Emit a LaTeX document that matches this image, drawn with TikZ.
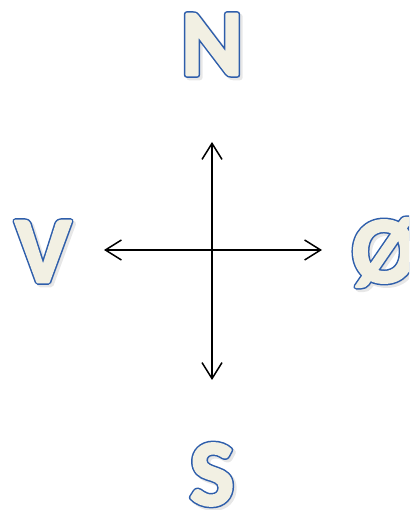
\documentclass[tikz,border=0pt]{standalone}
\usepackage{fontspec}
\setmainfont{Carlito}
\usetikzlibrary{arrows.meta}
\definecolor{cream}{HTML}{F2F0E3}
\definecolor{outl}{HTML}{2E5FAA}
\definecolor{shade}{HTML}{B0B0B0}
\newcommand{\outlinedletter}[1]{%
  \begingroup
  \rlap{\color{outl}\special{pdf:code 0.18 0.37 0.67 RG 5.6 w 1 j 1 Tr}#1\special{pdf:code 0 Tr}}%
  \color{cream}\special{pdf:code 0.949 0.941 0.89 RG 2.6 w 1 j 2 Tr}#1\special{pdf:code 0 Tr}%
  \endgroup}
\newcommand{\shadowtext}[1]{%
  \begingroup\color{shade}\special{pdf:code 0.69 0.69 0.69 RG 5.6 w 1 j 2 Tr}#1\special{pdf:code 0 Tr}\endgroup}
\tikzset{
  letter/.style={inner sep=0pt, anchor=base, font=\fontsize{94}{94}\selectfont\bfseries},
  shadowletter/.style={letter, opacity=0.3},
  axis/.style={line width=1.5pt, {Straight Barb[length=16pt,width=20pt,line width=1.5pt]}-{Straight Barb[length=16pt,width=20pt,line width=1.5pt]}}
}
\begin{document}
\begin{tikzpicture}[x=1pt,y=1pt]
\useasboundingbox (0,0) rectangle (409,510);
\clip (0,0) rectangle (409,510);
% shadows
\node[shadowletter] (ns) at (214.5,432.5) {\shadowtext{N}};
\node[shadowletter] (vs) at (45.5,225.5) {\shadowtext{V}};
\node[shadowletter] (os) at (386.5,225.5) {\shadowtext{Ø}};
\node[shadowletter] (ss) at (214.5,2.5) {\shadowtext{S}};
% letters
\node[letter] (n) at (212,435) {\outlinedletter{N}};
\node[letter] (v) at (43,228) {\outlinedletter{V}};
\node[letter] (o) at (384,228) {\outlinedletter{Ø}};
\node[letter] (s) at (212,5) {\outlinedletter{S}};
% axes
\coordinate (top) at (212,368);
\coordinate (bottom) at (212,130);
\coordinate (left) at (104,260);
\coordinate (right) at (322,260);
\draw[axis] (bottom) -- (top);
\draw[axis] (left) -- (right);
\end{tikzpicture}
\end{document}
